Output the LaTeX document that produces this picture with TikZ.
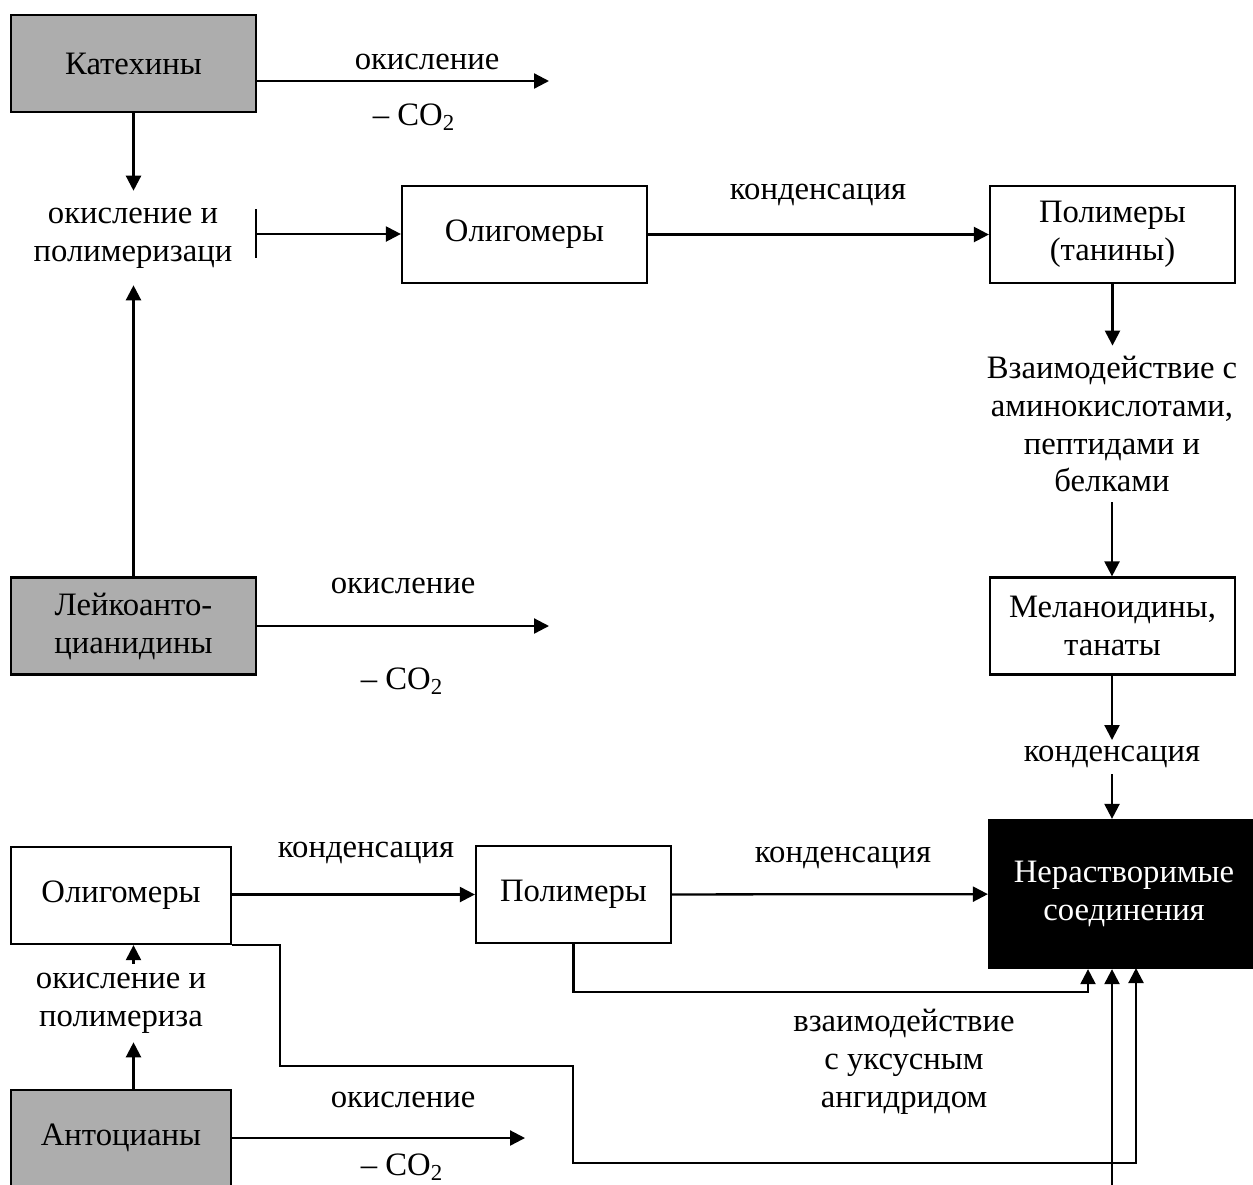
\documentclass[tikz,border=0pt]{standalone}
\usepackage{fontspec}
\setmainfont{Liberation Serif}
\usetikzlibrary{positioning, arrows.meta}
\begin{document}
\begin{tikzpicture}[
      x=0.02cm, y=-0.02cm,
      line width=1.3pt,
      >={Triangle[length=3mm, width=3mm]},
      every node/.style = {font=\fontsize{18.6}{21.6}\selectfont, align=center, inner sep=1mm},
      box/.style        = {draw, minimum width=4.9cm, minimum height=1.94cm},
      greybox/.style    = {box, fill=black!32},
      smallbox/.style   = {box, minimum width=4.4cm}
    ]
    \useasboundingbox (0,0) rectangle (1253,1184);
    \clip (0,0) rectangle (1253,1184);

    \node[greybox] (kat) at (133.5,63.5) {Катехины};
    \node[greybox] (leu) at (133.5,626) {Лейкоанто-\\цианидины};
    \node[inner ysep=3.2mm] (ok2) at (133,238) {окисление и\\полимеризаци};
    \node[box] (oli1) at (524.5,234.5) {Олигомеры};
    \node[box] (pol1) at (1112.5,234.5) {Полимеры\\(танины)};
    \node[inner ysep=1.8mm] (vz) at (1112,424) {Взаимодействие с\\аминокислотами,\\пептидами и\\белками};
    \node[box] (mel) at (1112.5,626) {Меланоидины,\\танаты};
    \node (k2) at (1112,757) {конденсация};
    \node[draw, fill=black, text=white, minimum width=5.4cm, minimum height=2.96cm] (ner) at (1124,894) {Нерастворимые\\соединения};
    \node[smallbox] (oli2) at (121,895.5) {Олигомеры};
    \node[box, minimum width=3.9cm] (pol2) at (573.5,894.5) {Полимеры};
    \node[inner ysep=1.6mm] (ok3) at (121,1003) {окисление и\\полимериза};
    \node[greybox, minimum width=4.4cm, minimum height=1.92cm] (ant) at (121,1138) {Антоцианы};
    \node (vz2) at (904,1062) {взаимодействие\\с уксусным\\ангидридом};

    \node (o1) at (427,62) {окисление};
    \node (c1) at (414,117) {– CO\textsubscript{2}};
    \node (k1) at (818,195) {конденсация};
    \node (o2) at (403,586) {окисление};
    \node (c2) at (402,681) {– CO\textsubscript{2}};
    \node (k3) at (366,853) {конденсация};
    \node (k4) at (843,858) {конденсация};
    \node (o3) at (403,1100) {окисление};
    \node (c3) at (402,1167) {– CO\textsubscript{2}};

    \coordinate (e1) at (549,81);
    \coordinate (e2) at (549,626);
    \coordinate (e3) at (525,1138);
    \coordinate (bt) at (256,209);
    \coordinate (bm) at (256,234);
    \coordinate (bb) at (256,258);
    \coordinate (r1) at (1088,992);
    \coordinate (b1) at (280,1066);
    \coordinate (b2) at (573,1163);
    \coordinate (b3) at (1136,968);
    \coordinate (bot) at (1112,1190);

    \draw[->] (kat.east |- e1) -- (e1);
    \draw[->] (kat.south) -- (kat.south |- ok2.north);
    \draw[->] (leu.north) -- (leu.north |- ok2.south);
    \draw (bt) -- (bb);
    \draw[->] (bm) -- (oli1.west |- bm);
    \draw[->] (oli1) -- (pol1);
    \draw[->] (pol1.south) -- (pol1.south |- vz.north);
    \draw[->] (vz.south) -- (vz.south |- mel.north);
    \draw[->] (mel.south -| vz.south) -- (k2.north);
    \draw[->] (k2.south) -- (k2.south |- ner.north);
    \draw[->] (leu.east) -- (e2);
    \draw[->] (oli2.east |- pol2.west) -- (pol2.west);
    \draw[->] (pol2) -- (ner);
    \draw[->] (ok3.north -| kat.south) -- (oli2.south -| kat.south);
    \draw[->] (ant.north -| kat.south) -- (ok3.south -| kat.south);
    \draw[->] (ant.east) -- (e3);
    \draw[->] (pol2.south) |- (r1) -- (r1 |- ner.south);
    \draw[->] (oli2.south east) -| (b1) -| (b2) -| (b3);
    \draw[->] (bot) -- (bot |- ner.south);
\end{tikzpicture}
\end{document}
